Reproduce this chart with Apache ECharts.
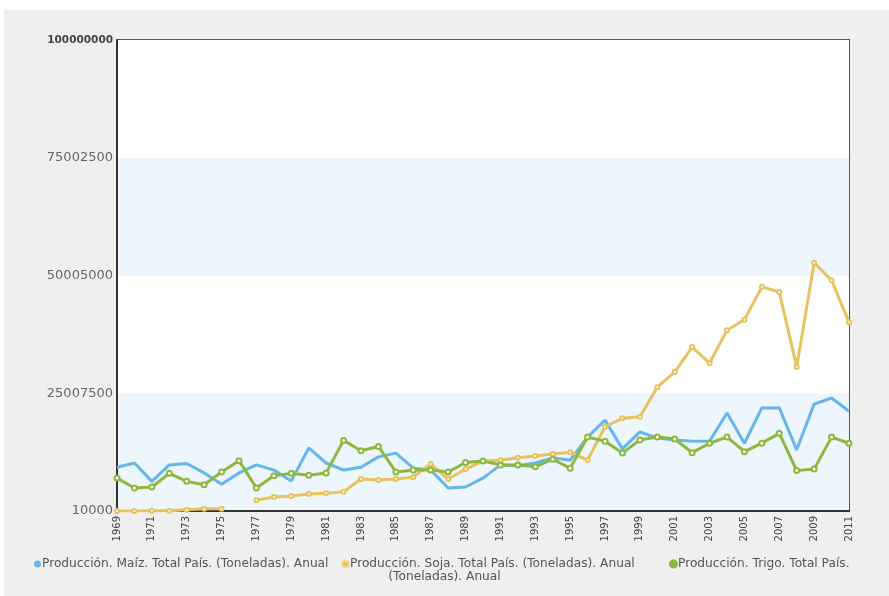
<!DOCTYPE html>
<html>
<head>
<meta charset="utf-8">
<script src="https://cdn.jsdelivr.net/npm/echarts@6/dist/echarts.min.js"></script>
<style>
  html, body { margin: 0; padding: 0; background: #ffffff; }
  #bg { position: absolute; left: 4px; top: 10px; width: 885px; height: 586px; background: #efefef; }
  #chart { position: absolute; left: 0; top: 0; width: 889px; height: 596px; }
</style>
</head>
<body>
<div id="bg"></div>
<div id="chart"></div>
<script>
// ---- data ----
const years = [];
for (let y = 1969; y <= 2011; y++) years.push(String(y));

const seriesNames = [
  'Producción. Maíz. Total País. (Toneladas). Anual',
  'Producción. Soja. Total País. (Toneladas). Anual',
  'Producción. Trigo. Total País. (Toneladas). Anual'
];

// values in tonnes
const maiz = [
  9300000, 10200000, 6300000, 9800000, 10100000, 8100000, 5700000, 8100000, 9800000, 8700000,
  6400000, 13400000, 10200000, 8700000, 9300000, 11500000, 12300000, 9100000, 8700000, 4900000,
  5100000, 7000000, 9800000, 9600000, 10200000, 11300000, 10800000, 15700000, 19300000, 13200000,
  16800000, 15500000, 15100000, 14800000, 14800000, 20800000, 14400000, 21900000, 21900000, 13000000,
  22700000, 24000000, 21200000
];
const soja = [
  30000, 30000, 60000, 80000, 270000, 500000, 490000, null, 2300000, 3000000,
  3200000, 3600000, 3800000, 4100000, 6800000, 6600000, 6800000, 7200000, 10000000, 6800000,
  8900000, 10600000, 10800000, 11300000, 11700000, 12100000, 12500000, 10800000, 17900000, 19700000,
  20000000, 26300000, 29500000, 34800000, 31400000, 38400000, 40600000, 47600000, 46500000, 30600000,
  52700000, 49000000, 40100000
];
const trigo = [
  7000000, 4900000, 5100000, 8000000, 6300000, 5600000, 8300000, 10700000, 4900000, 7500000,
  8000000, 7600000, 8100000, 15000000, 12800000, 13700000, 8300000, 8700000, 8700000, 8300000,
  10300000, 10600000, 9800000, 9800000, 9400000, 11000000, 9100000, 15700000, 14800000, 12300000,
  15100000, 15700000, 15300000, 12400000, 14400000, 15700000, 12600000, 14400000, 16500000, 8600000,
  8900000, 15700000, 14400000
];

const yMin = 10000;
const yMax = 100000000;
const yTickLabels = ['10000', '25007500', '50005000', '75002500', '100000000'];

const colors = ['#66b6ea', '#e8c25c', '#8db83c'];

// ---- chart ----
const chart = echarts.init(document.getElementById('chart'));
const tickStep = (yMax - yMin) / (yTickLabels.length - 1);
const FONT = 'DejaVu Sans';

const splitName = (n) => {
  const k = n.indexOf(' (Toneladas)');
  return [n.slice(0, k), n.slice(k + 1)];
};

const legendLefts = [29, 336, 664];
const legendTextStyle = { fontSize: 12.2, color: '#555', fontFamily: FONT, padding: [0, 0, 0, -4] };

chart.setOption({
  animation: false,
  backgroundColor: 'transparent',
  textStyle: { fontFamily: FONT },
  grid: {
    left: 117, right: 40, top: 40, bottom: 85,
    show: true, backgroundColor: '#ffffff', borderColor: '#555', borderWidth: 2
  },
  legend: seriesNames.map((n, i) => ({
    left: legendLefts[i], top: 553,
    icon: 'circle', itemWidth: 7, itemHeight: 7,
    textStyle: legendTextStyle,
    data: [n],
    formatter: (nm) => nm === seriesNames[2] ? splitName(nm)[0] : nm
  })),
  graphic: [{
    type: 'text', left: 'center', top: 571,
    style: { text: splitName(seriesNames[2])[1], fontSize: 12.2, fill: '#555', fontFamily: FONT }
  }],
  xAxis: {
    type: 'category', data: years, boundaryGap: false,
    axisLine: { lineStyle: { color: '#333', width: 2 } },
    axisTick: { show: false },
    axisLabel: { interval: 1, rotate: 90, fontSize: 10, color: '#444', margin: 5, fontFamily: FONT },
    splitLine: { show: false }
  },
  yAxis: [{
    type: 'value', min: 0, max: yMax - yMin, interval: tickStep,
    axisLine: { show: true, lineStyle: { color: '#333', width: 2 } },
    axisTick: { show: false },
    axisLabel: {
      margin: 4,
      formatter: (v) => {
        const i = Math.round(v / tickStep);
        return (i === yTickLabels.length - 1 ? '{b|' : '{n|') + yTickLabels[i] + '}';
      },
      rich: {
        b: { fontSize: 10.5, fontWeight: 'bold', color: '#444', fontFamily: FONT },
        n: { fontSize: 13, color: '#666', fontFamily: FONT }
      }
    },
    splitLine: { show: false },
    splitArea: { show: true, areaStyle: { color: ['#eef6fd', '#ffffff'] } }
  }, {
    type: 'value', min: yMin, max: yMax, show: false,
    splitLine: { show: false }
  }],
  series: [
    {
      name: seriesNames[0], type: 'line', yAxisIndex: 1, data: maiz,
      color: colors[0], lineStyle: { width: 3, color: colors[0] },
      showSymbol: false, symbol: 'circle'
    },
    {
      name: seriesNames[1], type: 'line', yAxisIndex: 1, data: soja,
      color: colors[1], lineStyle: { width: 3, color: colors[1] },
      symbol: 'emptyCircle', symbolSize: 4,
      itemStyle: { color: colors[1], borderColor: '#f2dc96', borderWidth: 1 },
      connectNulls: false
    },
    {
      name: seriesNames[2], type: 'line', yAxisIndex: 1, data: trigo,
      color: colors[2], lineStyle: { width: 3, color: colors[2] },
      symbol: 'emptyCircle', symbolSize: 5,
      itemStyle: { color: colors[2], borderColor: colors[2], borderWidth: 1.5 }
    }
  ]
});
</script>
</body>
</html>
